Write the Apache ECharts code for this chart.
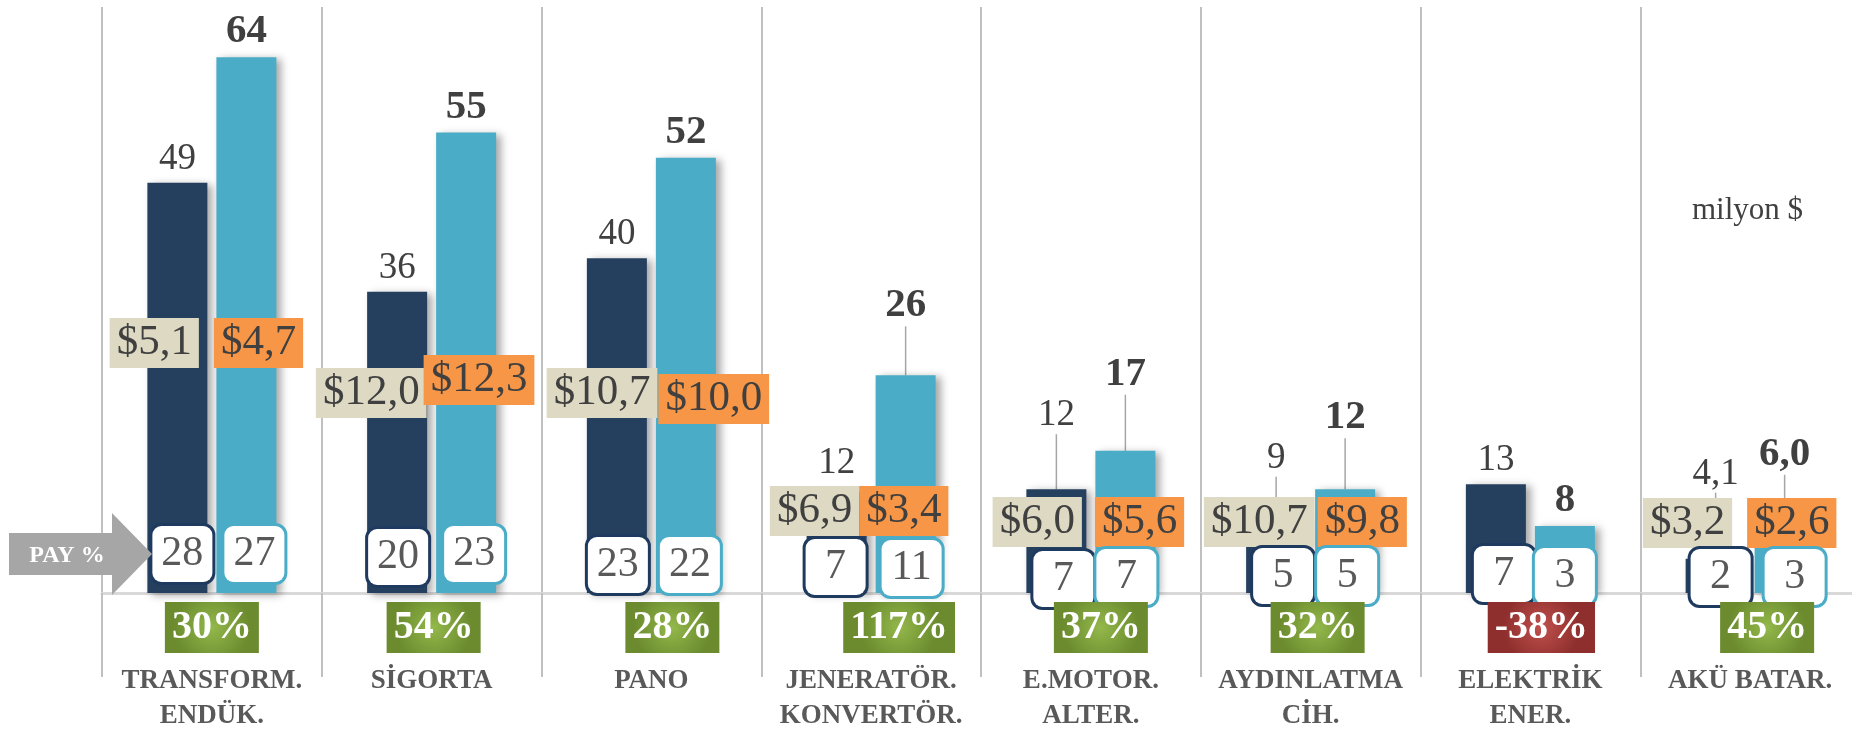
<!DOCTYPE html>
<html>
<head>
<meta charset="utf-8">
<script src="https://cdn.jsdelivr.net/npm/echarts@6/dist/echarts.min.js"></script>
<style>
  html, body { margin: 0; padding: 0; background: #fff; }
  #chart { width: 1852px; height: 734px; }
</style>
</head>
<body>
<div id="chart"></div>
<script>
// sektörler
var categories = ['TRANSFORM.\nENDÜK.', 'SİGORTA', 'PANO', 'JENERATÖR.\nKONVERTÖR.', 'E.MOTOR.\nALTER.', 'AYDINLATMA\nCİH.', 'ELEKTRİK\nENER.', 'AKÜ BATAR.'];
// ihracat (milyon $)
var valuesPrev = [49, 36, 40, 12, 12.4, 9, 13, 4.1];
var valuesCurr = [64, 55, 52, 26, 17, 12.4, 8, 6.0];
// pay %
var sharePrev = [28, 20, 23, 7, 7, 5, 7, 2];
var shareCurr = [27, 23, 22, 11, 7, 5, 3, 3];
// birim fiyat $
var pricePrev = [5.1, 12.0, 10.7, 6.9, 6.0, 10.7, null, 3.2];
var priceCurr = [4.7, 12.3, 10.0, 3.4, 5.6, 9.8, null, 2.6];
// değişim %
var growth = [30, 54, 28, 117, 37, 32, -38, 45];

// yerleşim (px): etiket kaydırmaları
var labelShiftPrev = [0, 0, 0, -6, -50, -36, 0, -61];
var labelShiftCurr = [0, 0, 0, -44, -51, -46, 0, -63];
var priceLiftPrev = [225, 175, 175, 57, 46, 46, 0, 45];
var priceLiftCurr = [225, 188, 169, 57, 46, 46, 0, 45];
var priceDxPrev = [-13, -5, 6, -12, -9, 4, 0, -18];
var priceDxCurr = [2, -8, 7, -12, 4, 7, 0, -3];
var shareLiftPrev = [11, 8, 0, -2, -14, -11, -9, -12];
var shareLiftCurr = [11, 11, 0, -3, -12, -11, -11, -12];
var shareDxPrev = [5, 1, 1, -1, 7, 7, 8, 5];
var shareDxCurr = [8, 8, 4, 6, 1, 2, 0, 10];
var growthDx = [0, 2, 21, 28, 10, 7, 11, 17];

var SERIF = '"Liberation Serif", "Times New Roman", serif';

function comma(v) {
  return v.toFixed(1).replace('.', ',');
}
function topText(v) {
  return v < 7 ? comma(v) : String(Math.round(v));
}

var chart = echarts.init(document.getElementById('chart'));

var barShadow = {
  shadowBlur: 8,
  shadowOffsetX: 5,
  shadowOffsetY: 2,
  shadowColor: 'rgba(0,0,0,0.35)'
};

function barData(vals, shifts) {
  return vals.map(function (v, i) {
    return { value: v, labelLine: { show: shifts[i] < -20 } };
  });
}

var greenBg = new echarts.graphic.RadialGradient(0.5, 0.5, 0.75, [
  { offset: 0, color: '#93b84b' },
  { offset: 1, color: '#6b8b2e' }
]);
var redBg = new echarts.graphic.RadialGradient(0.5, 0.5, 0.75, [
  { offset: 0, color: '#c0504d' },
  { offset: 1, color: '#8e2f2d' }
]);

function shareBox(text, x, y, border) {
  return {
    type: 'text',
    z2: 20,
    style: {
      text: text,
      x: x,
      y: y,
      align: 'center',
      verticalAlign: 'bottom',
      font: '42px ' + SERIF,
      fill: '#595959',
      lineHeight: 42,
      width: 42,
      padding: [7, 9],
      backgroundColor: '#fff',
      borderColor: border,
      borderWidth: 3,
      borderRadius: 9,
      boxShadowBlur: 7,
      boxShadowOffsetX: 2,
      boxShadowOffsetY: 5,
      boxShadowColor: 'rgba(0,0,0,0.5)'
    }
  };
}

function priceBox(v, x, y, align, bg, z2) {
  return {
    type: 'text',
    z2: z2,
    style: {
      text: '$' + comma(v),
      x: x,
      y: y,
      align: align,
      verticalAlign: 'bottom',
      font: '43px ' + SERIF,
      fill: '#404040',
      lineHeight: 44,
      padding: [3, 7],
      backgroundColor: bg
    }
  };
}

chart.setOption({
  animation: false,
  grid: {
    top: 7,
    bottom: 141,
    left: 102,
    right: -8,
    outerBoundsMode: 'none'
  },
  xAxis: {
    type: 'category',
    data: categories,
    axisLine: { lineStyle: { color: '#d9d9d9', width: 3 } },
    axisTick: { show: true, interval: 0, length: 84, lineStyle: { color: '#c0c0c0', width: 2 } },
    splitLine: { show: true, interval: 0, lineStyle: { color: '#c0c0c0', width: 2 } },
    axisLabel: {
      interval: 0,
      margin: 71,
      fontFamily: SERIF,
      fontWeight: 'bold',
      fontSize: 27,
      lineHeight: 35,
      color: '#595959'
    }
  },
  yAxis: {
    type: 'value',
    min: 0,
    max: 70,
    show: false
  },
  series: [
    {
      name: 'önceki',
      type: 'bar',
      barWidth: 60,
      barGap: '15%',
      data: barData(valuesPrev, labelShiftPrev),
      itemStyle: Object.assign({ color: '#253f5f' }, barShadow),
      label: {
        show: true,
        position: 'top',
        distance: 5,
        fontFamily: SERIF,
        fontSize: 37,
        color: '#404040',
        formatter: function (p) { return topText(p.value); }
      },
      labelLine: { show: false, lineStyle: { color: '#a6a6a6', width: 1.5 } },
      labelLayout: function (p) { return { dy: labelShiftPrev[p.dataIndex] }; }
    },
    {
      name: 'sonraki',
      type: 'bar',
      barWidth: 60,
      barGap: '15%',
      data: barData(valuesCurr, labelShiftCurr),
      itemStyle: Object.assign({ color: '#4aacc6' }, barShadow),
      label: {
        show: true,
        position: 'top',
        distance: 5,
        fontFamily: SERIF,
        fontSize: 41,
        fontWeight: 'bold',
        color: '#404040',
        formatter: function (p) { return topText(p.value); }
      },
      labelLine: { show: false, lineStyle: { color: '#a6a6a6', width: 1.5 } },
      labelLayout: function (p) { return { dy: labelShiftCurr[p.dataIndex] }; }
    },
    {
      // fiyat, pay ve değişim kutuları
      type: 'custom',
      z: 5,
      silent: true,
      data: categories.map(function (c, i) { return [i, 0]; }),
      renderItem: function (params, api) {
        var i = api.value(0);
        var p = api.coord([i, 0]);
        var cw = api.size([1, 0])[0];
        var off = cw * 0.157;
        var kids = [];
        if (pricePrev[i] != null) {
          kids.push(priceBox(pricePrev[i], p[0] + priceDxPrev[i], p[1] - priceLiftPrev[i], 'right', '#ddd9c3', 10));
        }
        if (priceCurr[i] != null) {
          kids.push(priceBox(priceCurr[i], p[0] + priceDxCurr[i], p[1] - priceLiftCurr[i], 'left', '#f79646', 11));
        }
        kids.push(shareBox(String(sharePrev[i]), p[0] - off + shareDxPrev[i], p[1] - shareLiftPrev[i], '#1f3a5f'));
        kids.push(shareBox(String(shareCurr[i]), p[0] + off + shareDxCurr[i], p[1] - shareLiftCurr[i], '#4aacc6'));
        kids.push({
          type: 'text',
          z2: 25,
          style: {
            text: growth[i] + '%',
            x: p[0] + growthDx[i],
            y: p[1] + 9,
            align: 'center',
            verticalAlign: 'top',
            font: 'bold 40px ' + SERIF,
            fill: '#fff',
            lineHeight: 41,
            padding: [5, 7],
            backgroundColor: growth[i] < 0 ? redBg : greenBg
          }
        });
        return { type: 'group', children: kids };
      }
    }
  ],
  graphic: [
    {
      type: 'polygon',
      z: 50,
      shape: {
        points: [[9, 533], [112, 533], [112, 513], [152, 554], [112, 595], [112, 575], [9, 575]]
      },
      style: { fill: '#a6a6a6' }
    },
    {
      type: 'text',
      z: 51,
      style: {
        text: 'PAY %',
        x: 67,
        y: 556,
        align: 'center',
        verticalAlign: 'middle',
        font: 'bold 24px ' + SERIF,
        fill: '#fff'
      }
    },
    {
      type: 'text',
      z: 51,
      style: {
        text: 'milyon $',
        x: 1692,
        y: 195,
        verticalAlign: 'top',
        font: '31px ' + SERIF,
        fill: '#404040'
      }
    }
  ]
});
</script>
</body>
</html>
